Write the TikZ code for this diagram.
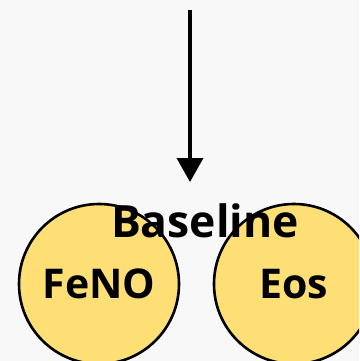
\documentclass[tikz,border=0pt]{standalone}
\usepackage{fontspec}
\setmainfont{Open Sans}
\usetikzlibrary{arrows.meta}
\definecolor{bg}{HTML}{F8F8F8}
\definecolor{circfill}{HTML}{FDDF75}
\tikzset{
  circnode/.style={circle, draw=black, line width=2.6pt, fill=circfill, minimum size=160pt, inner sep=0pt},
  lbl/.style={font=\bfseries\fontsize{41}{50}\selectfont, text=black, inner sep=0pt},
  arr/.style={line width=3.5pt, -{Triangle[length=24pt,width=26pt]}}
}
\begin{document}
\begin{tikzpicture}[x=1pt,y=-1pt]
\fill[bg] (0,0) rectangle (359,361);
\useasboundingbox (0,0) rectangle (359,361);
\begin{scope}
\clip (0,0) rectangle (359,361);
\node[circnode] (feno) at (99,284) {};
\node[circnode] (eos) at (294,284) {};
\node[lbl] at (feno.center) {FeNO};
\node[lbl] at (eos.center) {Eos};
\node[lbl, anchor=base, font=\bfseries\fontsize{44.5}{50}\selectfont] (base) at (205,237) {Baseline};
\coordinate (top) at (190,10);
\coordinate (tip) at (190,182);
\draw[arr] (top) -- (tip);
\end{scope}
\end{tikzpicture}
\end{document}
